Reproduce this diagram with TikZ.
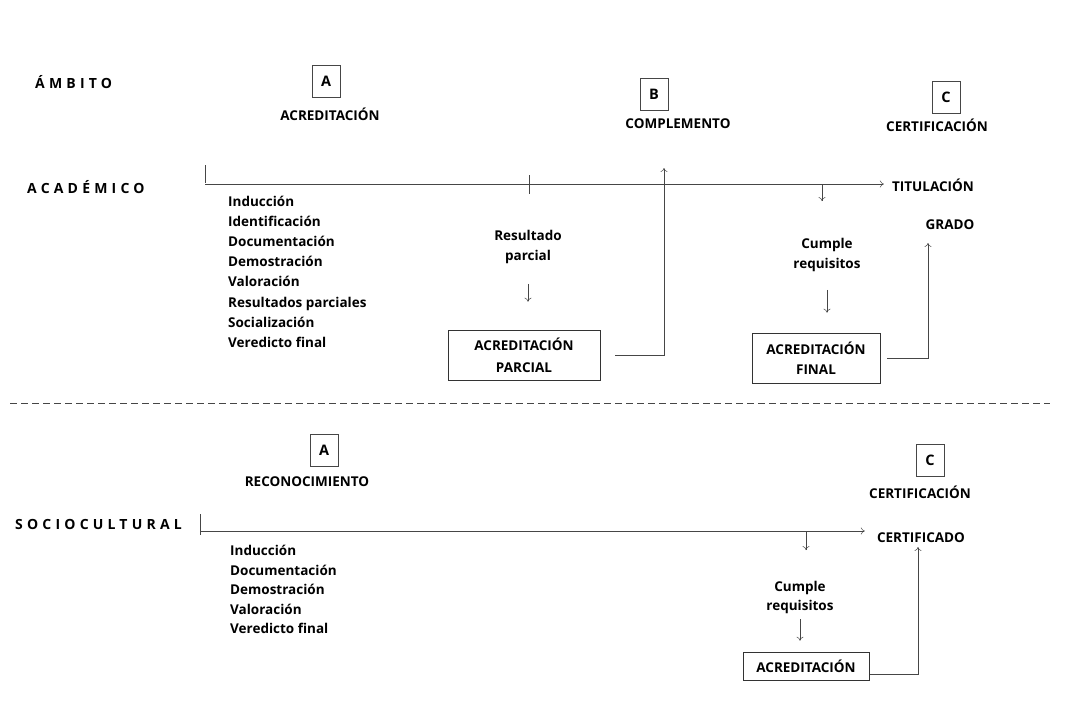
\documentclass[tikz,border=0pt]{standalone}
\usepackage{fontspec}
\setmainfont{Open Sans}
\usetikzlibrary{arrows.meta}
\tikzset{
  lbl/.style={font=\bfseries\fontsize{13.5}{16}\selectfont, inner sep=0pt},
  spaced/.style={font=\bfseries\fontsize{14}{16}\selectfont\addfontfeature{LetterSpace=30}, inner sep=0pt, anchor=west},
  letterbox/.style={lbl, font=\bfseries\fontsize{14.5}{16}\selectfont, draw=gray!55!black, line width=0.5pt, minimum width=28pt, minimum height=32pt},
  resultbox/.style={lbl, draw=gray!40!black, line width=0.6pt, align=center},
  steplist/.style={lbl, font=\bfseries\fontsize{13.5}{20.1}\selectfont, align=left, anchor=north west},
  flow/.style={draw=gray!55!black, line width=0.5pt, -{To[length=4pt,width=7pt]}},
  axis/.style={draw=gray!55!black, line width=0.5pt}
}
\begin{document}
\begin{tikzpicture}[x=1pt, y=1pt]
\useasboundingbox (0,0) rectangle (1090,-713);
% column headings
\node[spaced] (ambito) at (35,-82) {ÁMBITO};
\node[letterbox] (boxA) at (326,-81) {A};
\node[lbl] (acreditacion) at (330,-114) {ACREDITACIÓN};
\node[letterbox] (boxB) at (654,-94) {B};
\node[lbl] (complemento) at (678,-124) {COMPLEMENTO};
\node[letterbox] (boxC) at (946,-97) {C};
\node[lbl] (certificacion) at (937,-125) {CERTIFICACIÓN};
% academic row
\node[spaced] (academico) at (27,-187) {ACADÉMICO};
\node[lbl] (titulacion) at (933,-185) {TITULACIÓN};
\node[lbl] (grado) at (950,-225) {GRADO};
\coordinate (acadstart) at (205,-184);
\coordinate (acadsplit) at (822,-184);
\draw[axis] (205,-165) -- (205,-183);
\draw[axis] (529,-175) -- (529,-194);
\draw[flow] (acadstart) -- ([xshift=-8pt]acadstart -| titulacion.west);
\draw[flow] (acadsplit) -- ++(0,-17);
\node[steplist] (acadsteps) at (228,-196) {Inducción\\Identificación\\Documentación\\Demostración\\Valoración\\Resultados parciales\\Socialización\\Veredicto final};
\node[lbl, align=center, font=\bfseries\fontsize{13.5}{20}\selectfont] (resultado) at (528,-247) {Resultado\\parcial};
\node[resultbox, minimum width=152pt, minimum height=50pt, font=\bfseries\fontsize{13.5}{22}\selectfont] (parcial) at (524,-355) {ACREDITACIÓN\\PARCIAL};
\draw[flow] ([yshift=-20pt]resultado.south) -- ([yshift=28pt]resultado.south |- parcial.north);
\coordinate (toB) at (664,-168);
\draw[flow] ([xshift=15pt]parcial.east) -| (toB);
\node[lbl, align=center, font=\bfseries\fontsize{13.5}{20}\selectfont] (cumpleA) at (827,-255) {Cumple\\requisitos};
\node[resultbox, minimum width=128pt, minimum height=50pt, font=\bfseries\fontsize{13.5}{20}\selectfont] (final) at (816,-358) {ACREDITACIÓN\\FINAL};
\draw[flow] ([yshift=-18pt]cumpleA.south) -- ([yshift=20pt]cumpleA.south |- final.north);
\coordinate (toGrado) at (928,-243);
\draw[flow] ([xshift=7pt]final.east) -| (toGrado);
% separator
\draw[axis, dash pattern=on 7pt off 4pt] (10,-403) -- (1050,-403);
% sociocultural row
\node[letterbox] (boxAsoc) at (324,-450) {A};
\node[lbl] (reconocimiento) at (307,-482) {RECONOCIMIENTO};
\node[letterbox] (boxCsoc) at (930,-460) {C};
\node[lbl] (certificacion2) at (920,-492) {CERTIFICACIÓN};
\node[spaced] (sociocultural) at (15,-524) {SOCIOCULTURAL};
\node[lbl] (certificado) at (921,-538) {CERTIFICADO};
\coordinate (socstart) at (200,-531);
\coordinate (socsplit) at (806,-531);
\draw[axis] (200,-514) -- (200,-535);
\draw[flow] (socstart) -- ([xshift=-12pt]socstart -| certificado.west);
\draw[flow] (socsplit) -- ++(0,-19);
\node[steplist, font=\bfseries\fontsize{13.5}{19.5}\selectfont] (socsteps) at (230,-545) {Inducción\\Documentación\\Demostración\\Valoración\\Veredicto final};
\node[lbl, align=center, font=\bfseries\fontsize{13.5}{19}\selectfont] (cumpleB) at (800,-597) {Cumple\\requisitos};
\node[resultbox, minimum width=126pt, minimum height=28pt] (acredsoc) at (806,-666) {ACREDITACIÓN};
\draw[flow] ([yshift=-6pt]cumpleB.south) -- ([yshift=11pt]cumpleB.south |- acredsoc.north);
\coordinate (toCert) at (918,-547);
\draw[flow] ([xshift=1pt,yshift=-8pt]acredsoc.east) -| (toCert);
\end{tikzpicture}
\end{document}
